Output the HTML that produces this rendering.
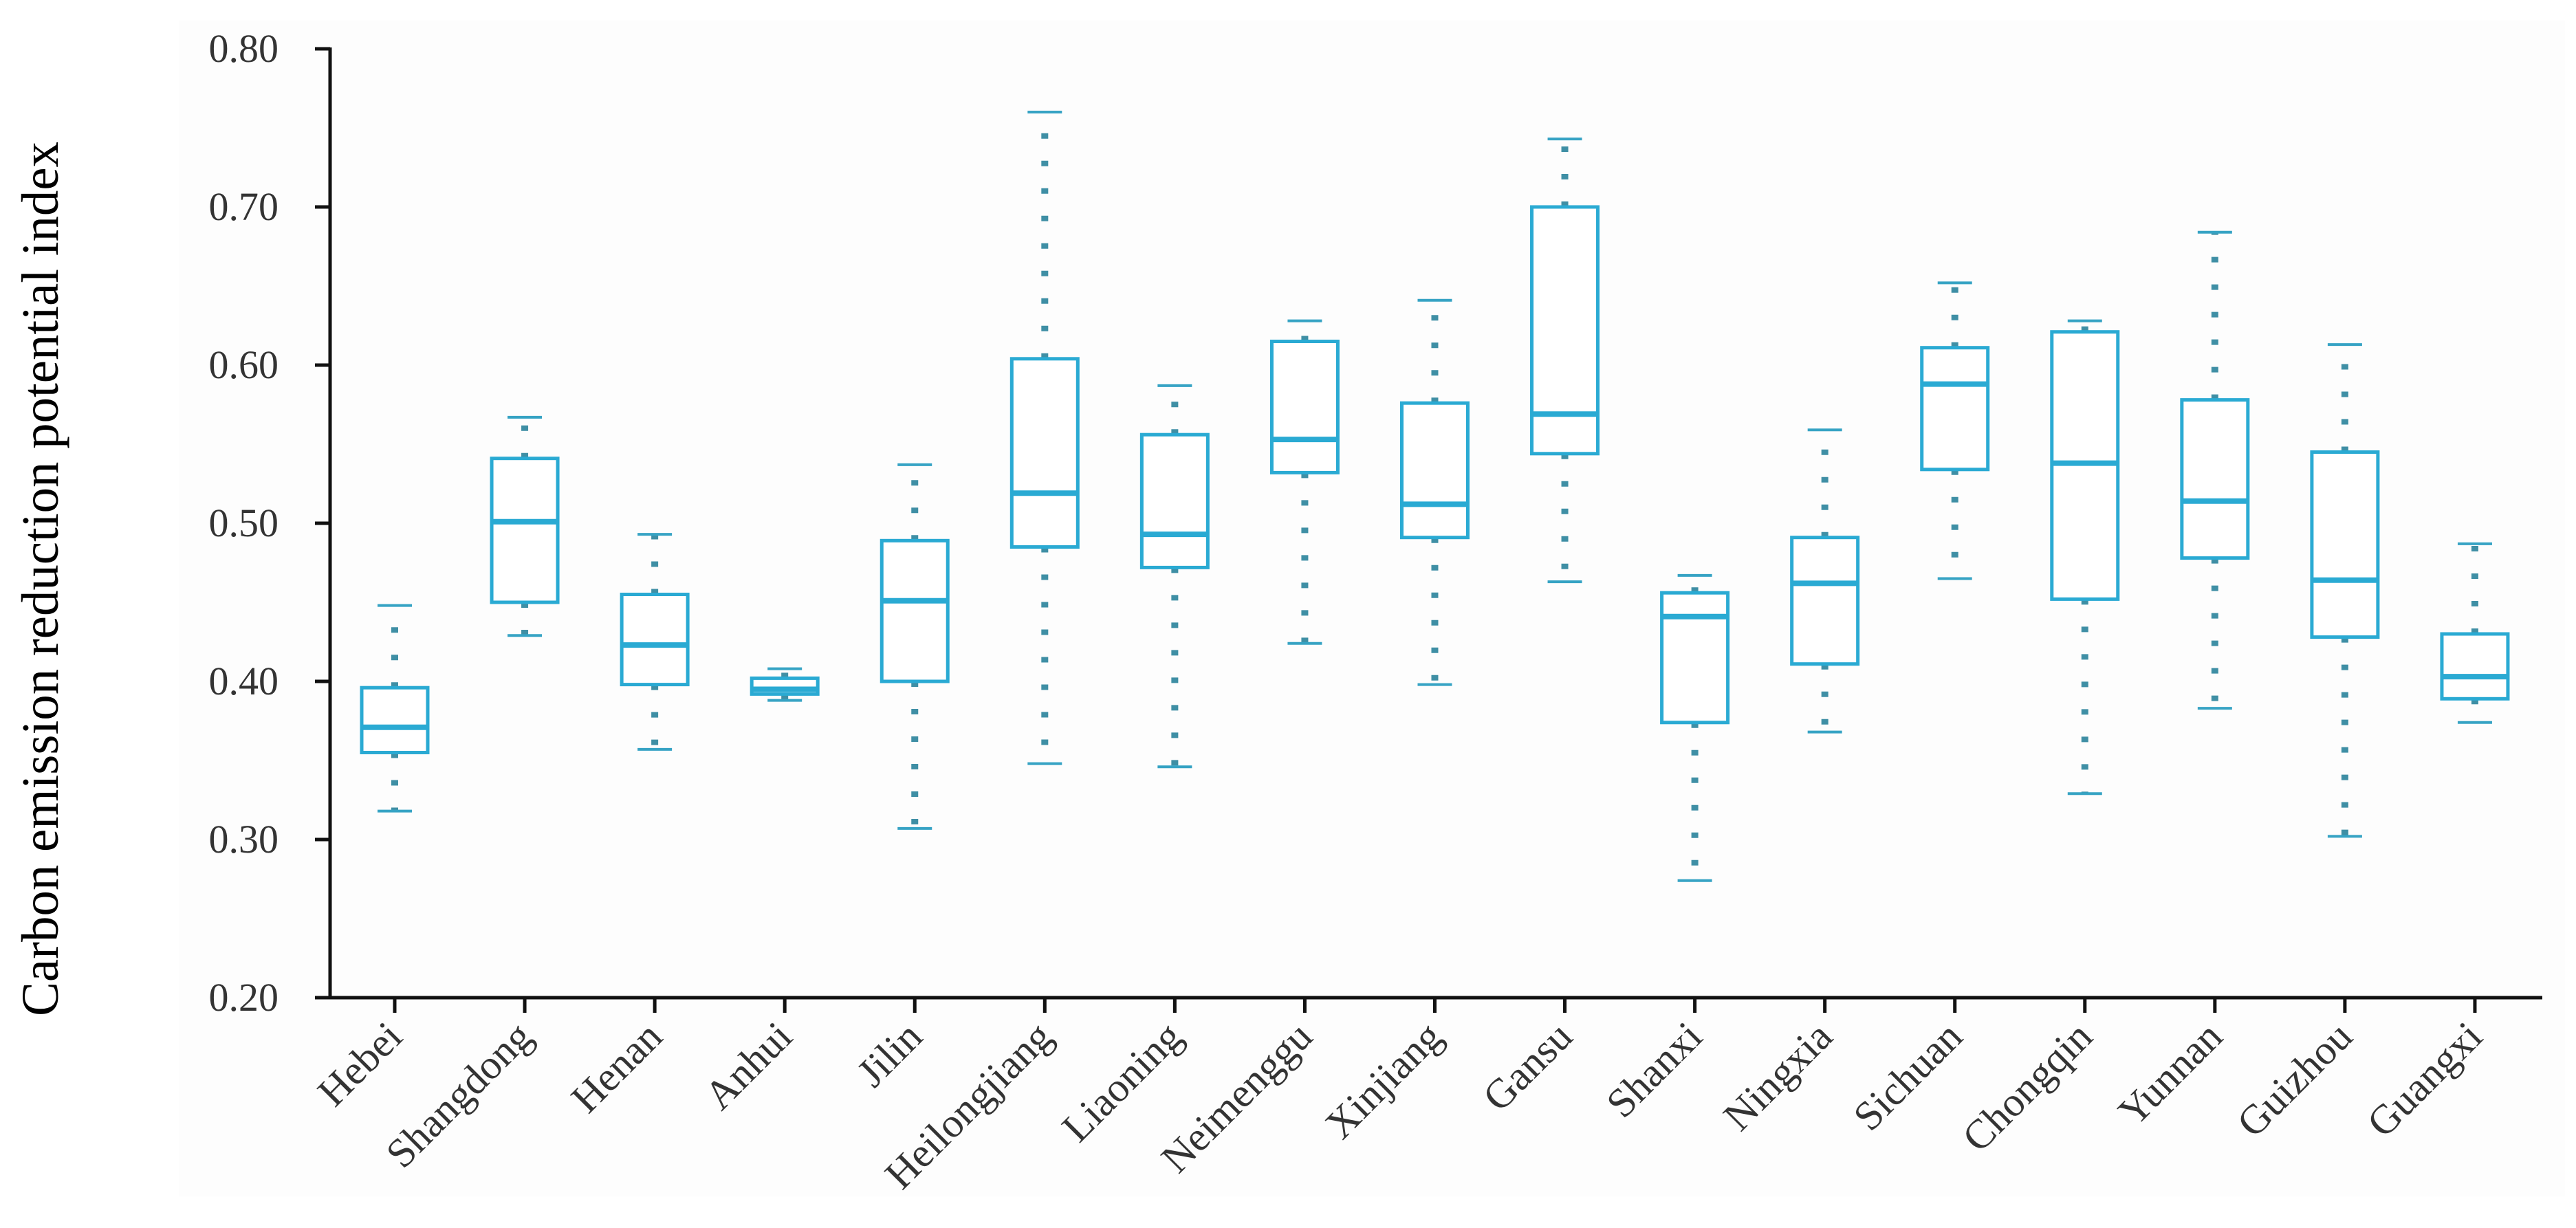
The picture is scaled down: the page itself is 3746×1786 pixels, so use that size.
<!DOCTYPE html>
<html><head><meta charset="utf-8">
<style>html,body{margin:0;padding:0;background:#fff;}svg{display:block;}</style>
</head><body>
<svg id="chart" width="3746" height="1786" viewBox="0 0 3746 1786" xmlns="http://www.w3.org/2000/svg" font-family="'Liberation Serif', serif">
<rect x="260" y="30" width="3470" height="1710" fill="#fdfdfd"/>
<g id="axes"></g>
<g id="boxes"></g>
<text transform="translate(84,842) rotate(-90)" text-anchor="middle" font-size="76" fill="#000" textLength="1272" lengthAdjust="spacingAndGlyphs">Carbon emission reduction potential index</text>
</svg>
<script>
const categories = ["Hebei","Shangdong","Henan","Anhui","Jilin","Heilongjiang","Liaoning","Neimenggu","Xinjiang","Gansu","Shanxi","Ningxia","Sichuan","Chongqin","Yunnan","Guizhou","Guangxi"];
const maxVals = [0.448,0.567,0.493,0.408,0.537,0.760,0.587,0.628,0.641,0.743,0.467,0.559,0.652,0.628,0.684,0.613,0.487];
const q3Vals  = [0.396,0.541,0.455,0.402,0.489,0.604,0.556,0.615,0.576,0.700,0.456,0.491,0.611,0.621,0.578,0.545,0.430];
const medVals = [0.371,0.501,0.423,0.395,0.451,0.519,0.493,0.553,0.512,0.569,0.441,0.462,0.588,0.538,0.514,0.464,0.403];
const q1Vals  = [0.355,0.450,0.398,0.392,0.400,0.485,0.472,0.532,0.491,0.544,0.374,0.411,0.534,0.452,0.478,0.428,0.389];
const minVals = [0.318,0.429,0.357,0.388,0.307,0.348,0.346,0.424,0.398,0.463,0.274,0.368,0.465,0.329,0.383,0.302,0.374];
const yTicks = [0.20,0.30,0.40,0.50,0.60,0.70,0.80];
const yTickLabels = ["0.20","0.30","0.40","0.50","0.60","0.70","0.80"];

const NS="http://www.w3.org/2000/svg";
const yMin=0.2,yMax=0.8,yTop=71,yBot=1451;
const xAxisL=480,xAxisR=3697,x0=574,step=189.06;
function yS(v){return yBot-(v-yMin)/(yMax-yMin)*(yBot-yTop);}
function xS(i){return x0+i*step;}
function mk(tag,attrs,parent){const e=document.createElementNS(NS,tag);for(const k in attrs)e.setAttribute(k,attrs[k]);parent.appendChild(e);return e;}
const axes=document.getElementById('axes'),boxes=document.getElementById('boxes');

let e=mk('line',{x1:xAxisL,y1:yTop-2,x2:xAxisL,y2:yBot+2,stroke:'#111','stroke-width':5},axes);


e=mk('line',{x1:xAxisL-22,y1:yBot,x2:xAxisR,y2:yBot,stroke:'#111','stroke-width':5},axes);



yTicks.forEach((v,i)=>{
  const t=mk('line',{x1:xAxisL-22,y1:yS(v),x2:xAxisL,y2:yS(v),stroke:'#111','stroke-width':5},axes);
  
  
  const l=mk('text',{x:405,y:yS(v)+19,'text-anchor':'end','font-size':58,fill:'#333'},axes);
  l.textContent=yTickLabels[i];
  
  
});

const boxC='#2aaad3',dotC='#3f8fa5',capC='#36a3c4';
categories.forEach((c,i)=>{
  const x=xS(i);
  const t=mk('line',{x1:x,y1:yBot,x2:x,y2:yBot+22,stroke:'#111','stroke-width':5},axes);
  
  
  const l=mk('text',{x:0,y:0,'text-anchor':'end','font-size':60,fill:'#333',transform:`translate(${x+14},${yBot+60}) rotate(-45)`},axes);
  l.textContent=c;
  
  

  const g=mk('g',{},boxes);
  
  
  const yMaxP=yS(maxVals[i]),yQ3=yS(q3Vals[i]),yMed=yS(medVals[i]),yQ1=yS(q1Vals[i]),yMinP=yS(minVals[i]);
  let w=mk('line',{x1:x,y1:yQ3,x2:x,y2:yMaxP,stroke:dotC,'stroke-width':10,'stroke-dasharray':'8 32'},g);
  
  
  w=mk('line',{x1:x,y1:yQ1,x2:x,y2:yMinP,stroke:dotC,'stroke-width':10,'stroke-dasharray':'8 32'},g);
  
  
  let cp=mk('line',{x1:x-25,y1:yMaxP,x2:x+25,y2:yMaxP,stroke:capC,'stroke-width':4},g);
  
  
  cp=mk('line',{x1:x-25,y1:yMinP,x2:x+25,y2:yMinP,stroke:capC,'stroke-width':4},g);
  
  
  const r=mk('rect',{x:x-48,y:yQ3,width:96,height:Math.max(1,yQ1-yQ3),fill:'#fff',stroke:boxC,'stroke-width':5},g);
  
  
  const m=mk('line',{x1:x-48,y1:yMed,x2:x+48,y2:yMed,stroke:boxC,'stroke-width':8},g);
  
  
});
</script>
</body></html>
